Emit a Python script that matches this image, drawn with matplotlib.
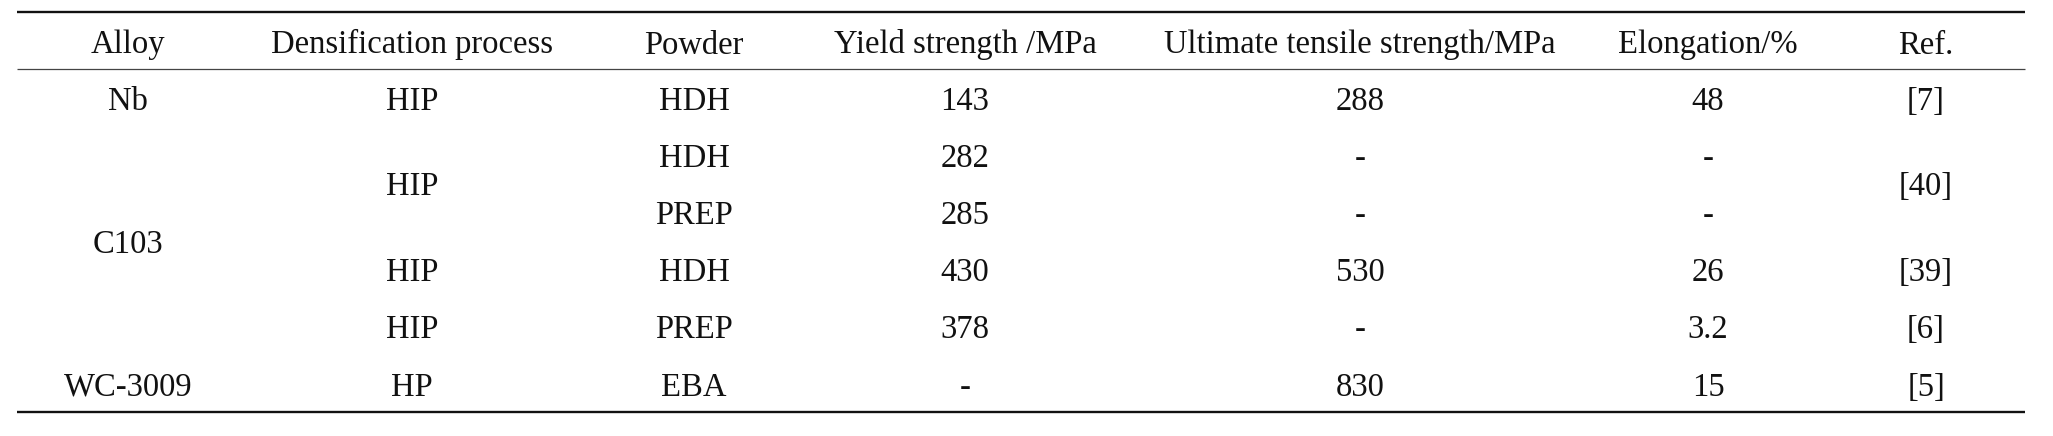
import matplotlib
matplotlib.use("Agg")
import matplotlib.pyplot as plt

# table data
headers = ["Alloy", "Densification process", "Powder", "Yield strength /MPa",
           "Ultimate tensile strength/MPa", "Elongation/%", "Ref."]
alloys = [("Nb", 1), ("C103", 4), ("WC-3009", 1)]          # (text, row span)
processes = [("HIP", 1), ("HIP", 2), ("HIP", 1), ("HIP", 1), ("HP", 1)]
powders = ["HDH", "HDH", "PREP", "HDH", "PREP", "EBA"]
yield_strength = ["143", "282", "285", "430", "378", "-"]
tensile_strength = ["288", "-", "-", "530", "-", "830"]
elongation = ["48", "-", "-", "26", "3.2", "15"]
refs = [("[7]", 1), ("[40]", 2), ("[39]", 1), ("[6]", 1), ("[5]", 1)]

# layout (pixels)
W, H = 2053, 436
col_x = [128, 412, 694, 965, 1360, 1708, 1926]
header_y = 43
row0_y = 99
row_h = 57.2
x_left, x_right = 17, 2025
top_rule, mid_rule, bot_rule = 12, 69, 412

fs = 23.5
font = ["Liberation Serif", "DejaVu Serif"]
col = "#111111"

fig = plt.figure(figsize=(W / 100, H / 100), dpi=100)
ax = fig.add_axes([0, 0, 1, 1])
ax.set_xlim(0, W)
ax.set_ylim(H, 0)
ax.axis("off")


def put(x, yc, s):
    # yc is the middle of the capitals
    ax.text(x, yc + 10.5, s, ha="center", va="baseline", fontsize=fs,
            family=font, color=col)


def spanned(x, items):
    r = 0
    for s, n in items:
        yc = row0_y + (r + (n - 1) / 2) * row_h
        put(x, yc, s)
        r += n


for x, h in zip(col_x, headers):
    put(x, header_y, h)

spanned(col_x[0], alloys)
spanned(col_x[1], processes)
for i, vals in enumerate([powders, yield_strength, tensile_strength, elongation]):
    spanned(col_x[2 + i], [(v, 1) for v in vals])
spanned(col_x[6], refs)

ax.plot([x_left, x_right], [top_rule, top_rule], color="#111111", lw=1.7,
        solid_capstyle="butt")
ax.plot([x_left, x_right], [mid_rule, mid_rule], color="#444444", lw=0.9,
        solid_capstyle="butt")
ax.plot([x_left, x_right], [bot_rule, bot_rule], color="#111111", lw=1.7,
        solid_capstyle="butt")

fig.savefig("out.png", dpi=100, facecolor="white")
